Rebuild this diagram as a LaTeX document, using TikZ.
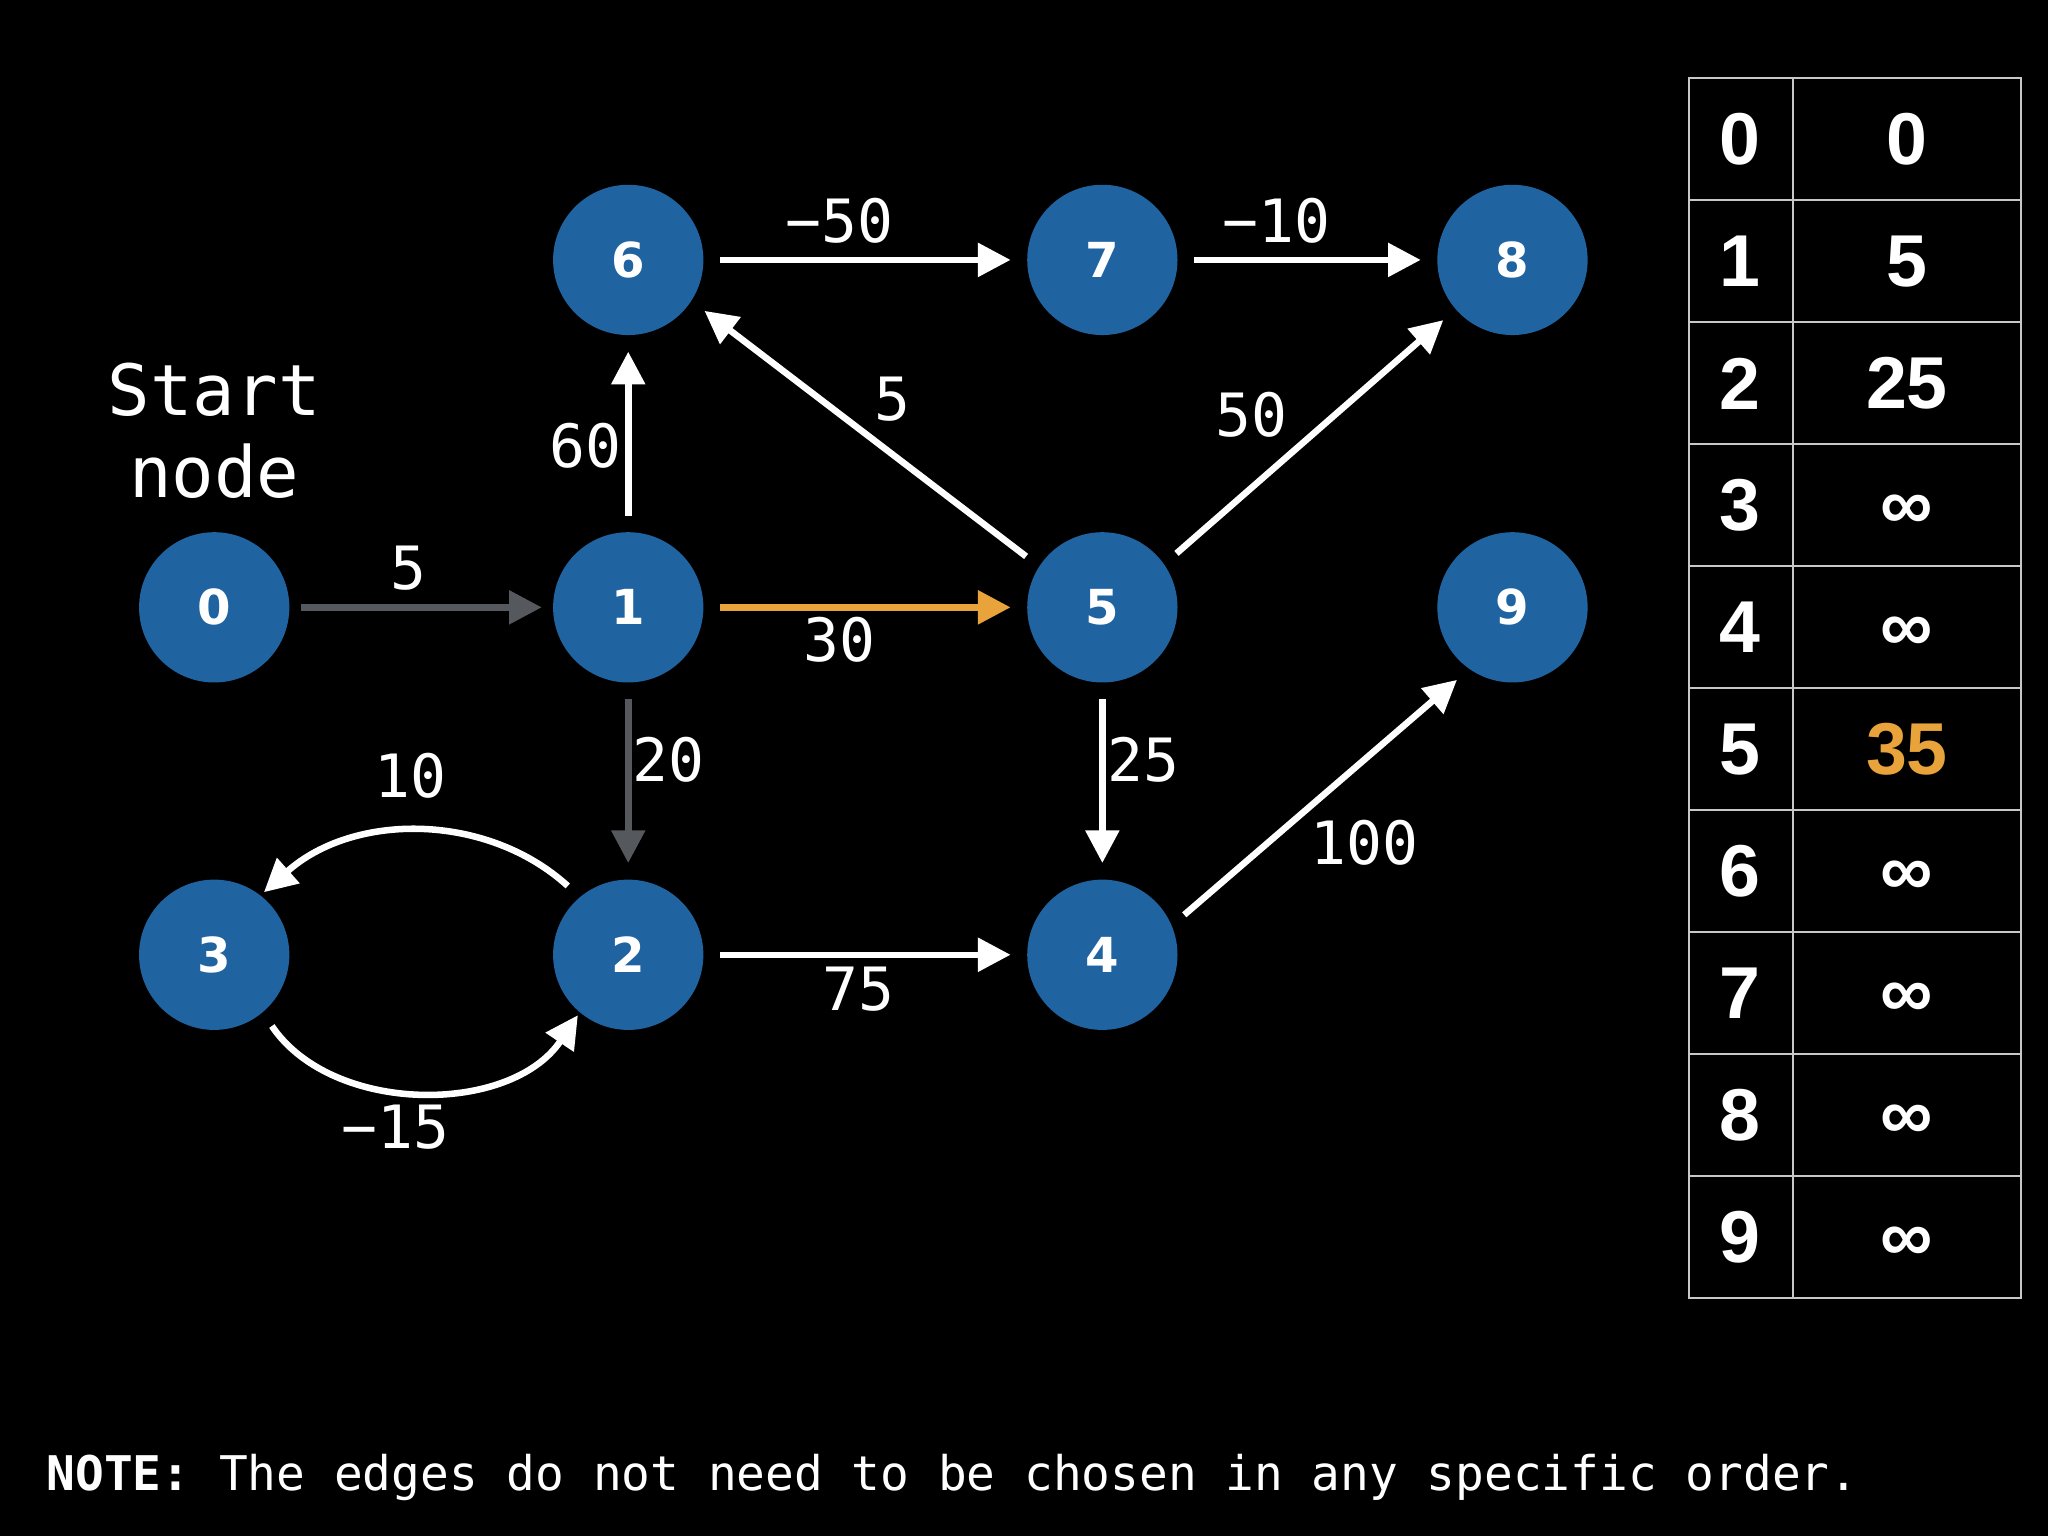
\documentclass[tikz,border=0pt]{standalone}
\usepackage{fontspec}
\usepackage{xcolor}
\usetikzlibrary{arrows.meta}
\usetikzlibrary{positioning}
\newfontfamily\monofont{DejaVu Sans Mono}
\newfontfamily\vertexfont{DejaVu Sans}
\newfontfamily\tablefont{Liberation Sans}
\definecolor{vertexblue}{HTML}{1F63A0}
\definecolor{usedgray}{HTML}{55595E}
\definecolor{relaxorange}{HTML}{E8A33A}
\definecolor{gridgray}{HTML}{C8C8C8}
\tikzset{vertex/.style = {circle, fill=vertexblue, minimum size=1.15cm, inner sep=0pt,
                          text=white, font=\vertexfont\bfseries\fontsize{10.5pt}{12pt}\selectfont}}
\tikzset{edge/.style = {white, line width=0.05cm, shorten <=0.12cm, shorten >=0.12cm,
                        -{Triangle[length=0.25cm,width=0.25cm]}}}
\tikzset{weight/.style = {text=white, inner sep=3pt,
                          font=\monofont\fontsize{13pt}{15pt}\selectfont}}
\tikzset{starttext/.style = {text=white, inner sep=0pt, align=center,
                             font=\monofont\fontsize{15.4pt}{18pt}\selectfont}}
\tikzset{notetext/.style = {text=white, inner sep=0pt,
                            font=\monofont\fontsize{10.4pt}{12pt}\selectfont}}
\tikzset{cell/.style = {text=white, inner sep=0pt,
                        font=\tablefont\bfseries\fontsize{16pt}{18pt}\selectfont}}

\begin{document}
\begin{tikzpicture}[x=0.01cm, y=-0.01cm]
	\fill[black] (0,0) rectangle (1568,1176);
	% vertices
	\node[vertex] (v0) at (164,465) {0};
	\node[vertex] (v1) at (481,465) {1};
	\node[vertex] (v5) at (844,465) {5};
	\node[vertex] (v9) at (1158,465) {9};
	\node[vertex] (v6) at (481,199) {6};
	\node[vertex] (v7) at (844,199) {7};
	\node[vertex] (v8) at (1158,199) {8};
	\node[vertex] (v3) at (164,731) {3};
	\node[vertex] (v2) at (481,731) {2};
	\node[vertex] (v4) at (844,731) {4};
	\node[starttext, above=0.24cm of v0] (start) {Start\\node};
	% edges
	\draw[edge, usedgray, shorten <=0.08cm, shorten >=0.08cm] (v0) to node[weight, above, pos=0.45] {5} (v1);
	\draw[edge, relaxorange] (v1) to node[weight, below, inner sep=1.5pt, pos=0.42] {30} (v5);
	\draw[edge] (v1) to node[weight, left, inner sep=0.8pt, pos=0.44] {60} (v6);
	\draw[edge, usedgray] (v1) to node[weight, right, inner sep=0.3pt, pos=0.39] {20} (v2);
	\draw[edge] (v6) to node[weight, above, pos=0.42] {−50} (v7);
	\draw[edge] (v7) to node[weight, above, pos=0.38] {−10} (v8);
	\draw[edge] (v5.147) to node[weight, above right, pos=0.51, xshift=-0.03cm, yshift=-0.06cm] {5} (v6.327);
	\draw[edge] (v5.35) to node[weight, above left, pos=0.46, xshift=0.05cm, yshift=-0.06cm] {50} (v8.221);
	\draw[edge] (v5) to node[weight, right, inner sep=0.5pt, pos=0.39] {25} (v4);
	\draw[edge] (v4.23) to node[weight, below right, inner sep=1pt, pos=0.44] {100} (v9.235);
	\draw[edge] (v2) to node[weight, below, inner sep=2pt, pos=0.48] {75} (v4);
	\draw[edge, shorten >=0.03cm] (v2.130) to[bend right=42]
		node[weight, above, pos=0.53, yshift=0.14cm] {10} (v3.52);
	\draw[edge, shorten >=0.02cm] (v3.310) to[bend right=56]
		node[weight, below, pos=0.43] {−15} (v2.230);
	% distance table
	\draw[gridgray, line width=0.015cm] (1293,60) rectangle (1547,994);
	\draw[gridgray, line width=0.015cm] (1373,60) -- (1373,994);
	\foreach \i in {1,...,9}
		\draw[gridgray, line width=0.015cm] (1293,60+93.4*\i) -- (1547,60+93.4*\i);
	\foreach \i/\d/\c/\s in {0/0/white/0, 1/5/white/0, 2/25/white/0, 3/∞/white/5, 4/∞/white/5,
	                         5/35/relaxorange/0, 6/∞/white/5, 7/∞/white/5, 8/∞/white/5, 9/∞/white/5} {
		\node[cell] (idx\i) at (1332,106.7+93.4*\i) {\i};
		\node[cell, text=\c] (dist\i) at (1460,106.7+93.4*\i+\s) {\d};
	}
	\node[notetext, anchor=base west] (note) at (35,1141)
		{\textbf{NOTE:} The edges do not need to be chosen in any specific order.};
\end{tikzpicture}
\end{document}
